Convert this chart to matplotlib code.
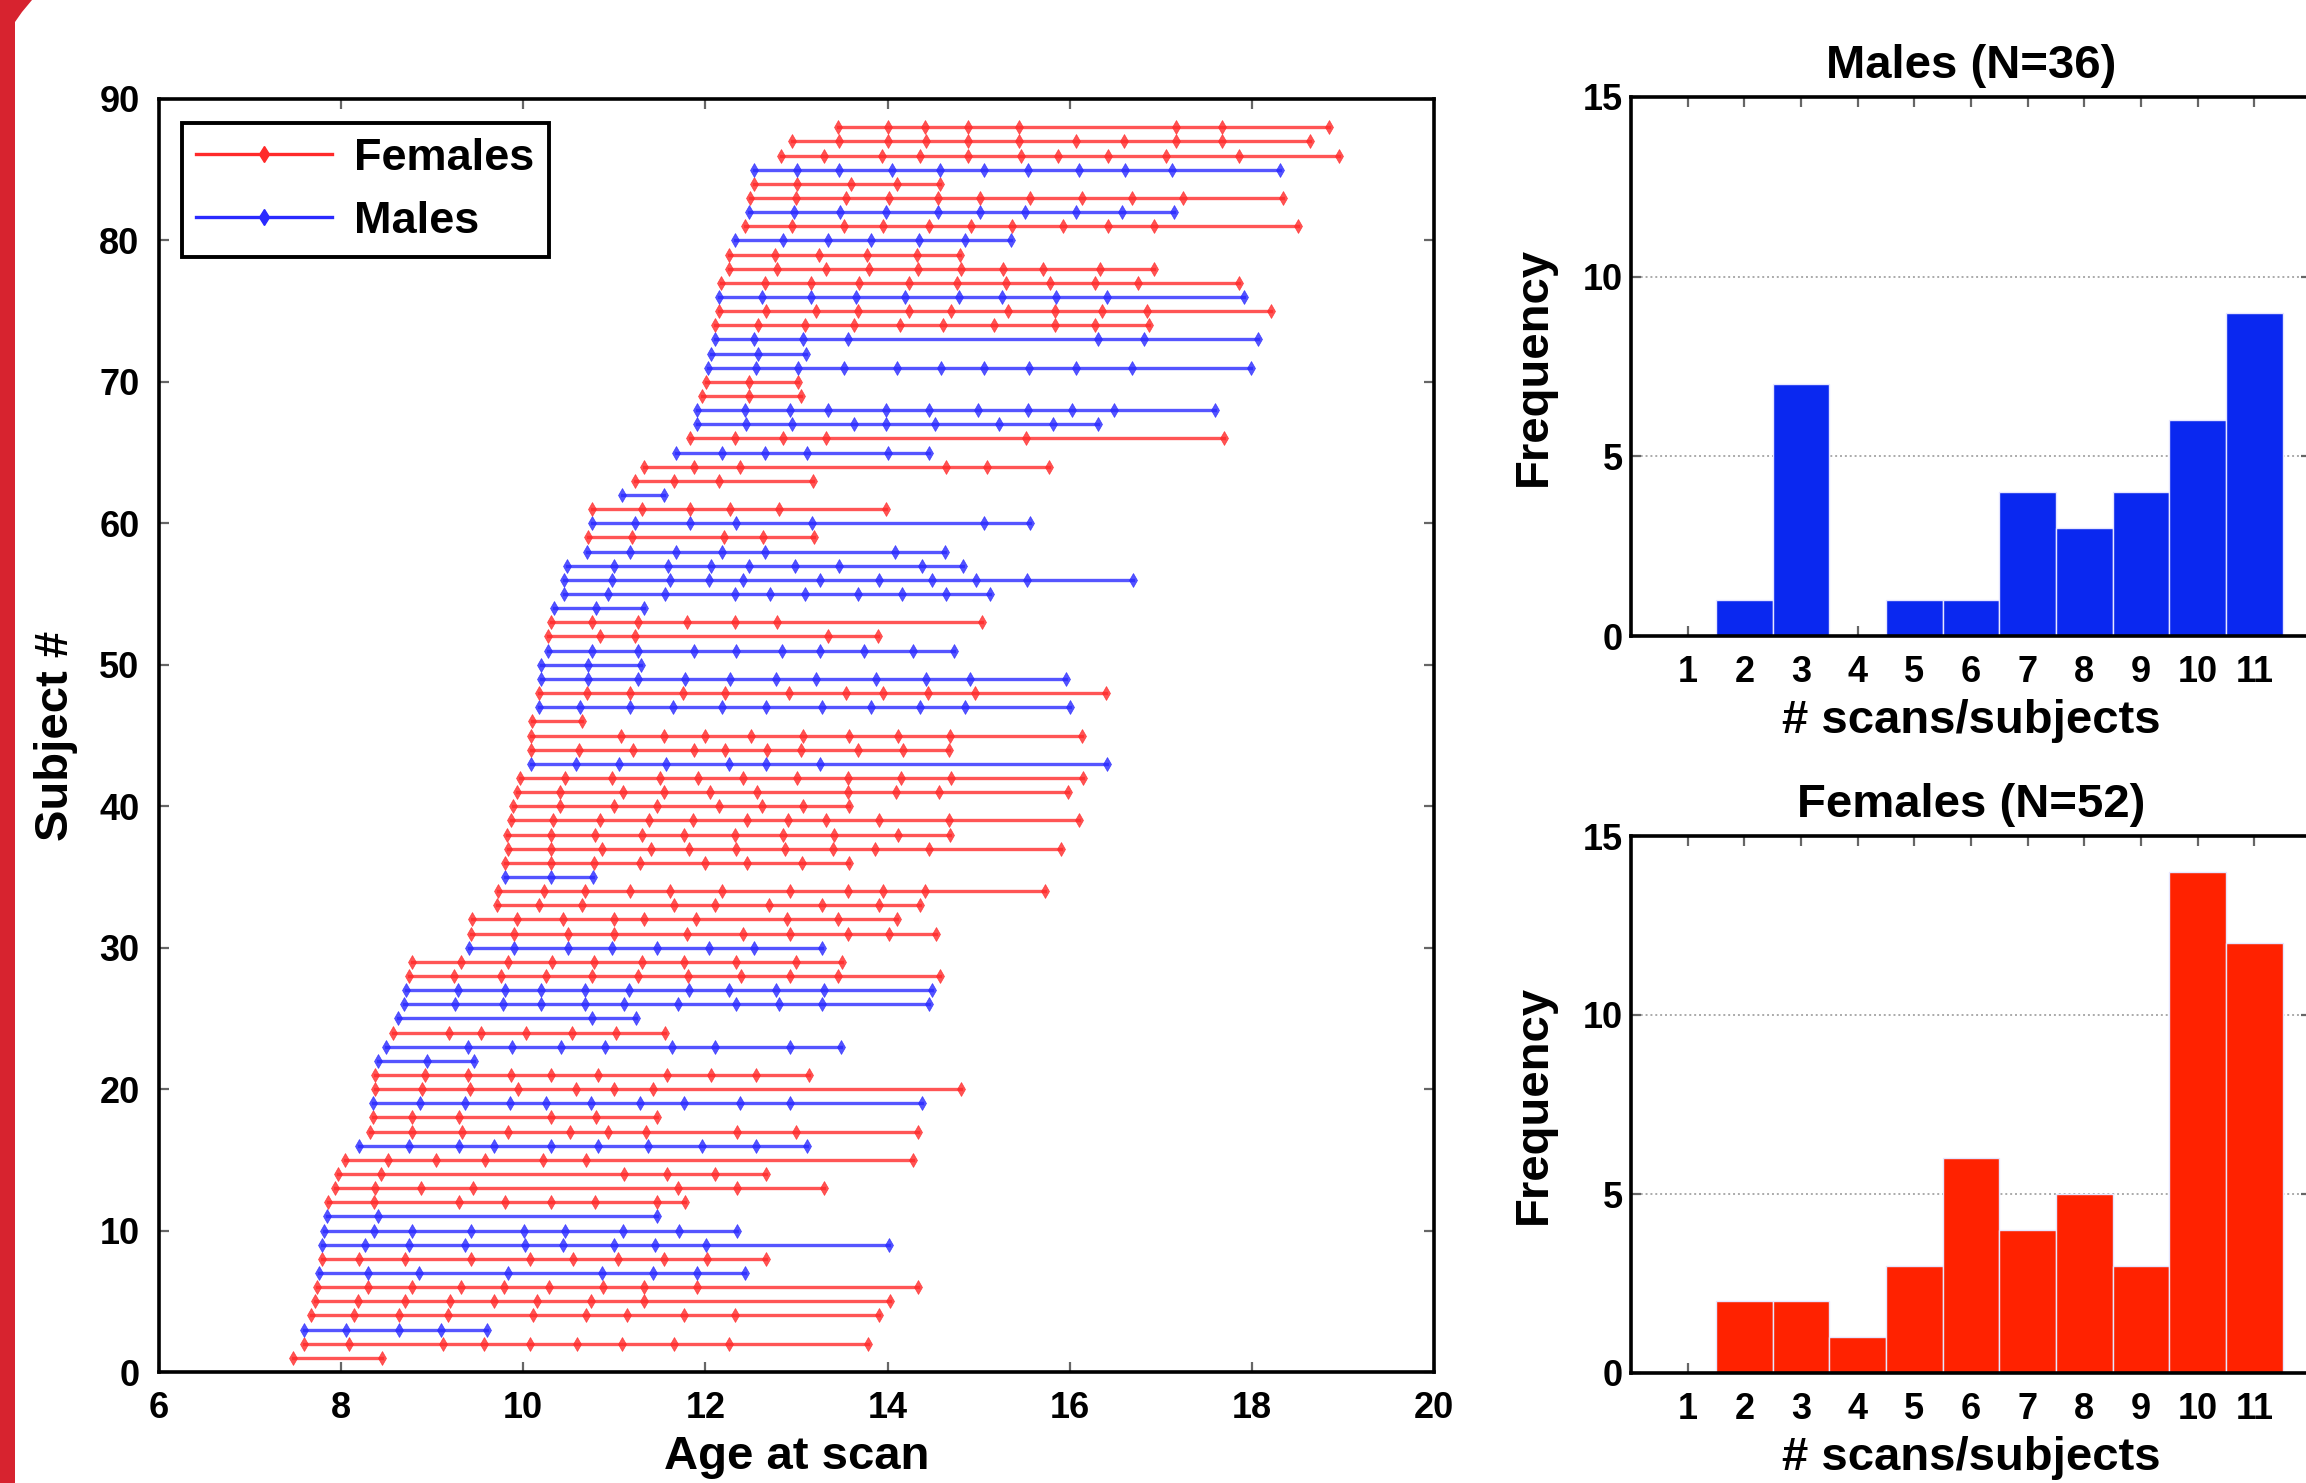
import matplotlib
matplotlib.use("Agg")
import matplotlib.pyplot as plt
import numpy as np
from matplotlib.patches import Polygon

# ---------------- data ----------------
# sex of each subject (1..88, bottom to top): F = female, M = male
subject_sex = ["F", "F", "M", "F", "F", "F", "M", "F", "M", "M",
               "M", "F", "F", "F", "F", "M", "F", "F", "M", "F",
               "F", "M", "M", "F", "M", "M", "M", "F", "F", "M",
               "F", "F", "F", "F", "M", "F", "F", "F", "F", "F",
               "F", "F", "M", "F", "F", "F", "M", "F", "M", "M",
               "M", "F", "F", "M", "M", "M", "M", "M", "F", "M",
               "F", "M", "F", "F", "M", "F", "M", "M", "F", "F",
               "M", "M", "M", "F", "F", "M", "F", "F", "F", "M",
               "F", "M", "F", "F", "M", "F", "F", "F"]

# age at each scan, per subject (1..88)
scan_ages = [
    [7.47, 8.45],
    [7.59, 8.09, 9.12, 9.57, 10.07, 10.59, 11.08, 11.65, 12.26, 13.79],
    [7.59, 8.05, 8.64, 9.10, 9.60],
    [7.67, 8.14, 8.64, 9.17, 10.11, 10.69, 11.14, 11.77, 12.33, 13.91],
    [7.71, 8.19, 8.70, 9.19, 9.68, 10.15, 10.74, 11.32, 14.03],
    [7.73, 8.29, 8.78, 9.32, 9.79, 10.28, 10.88, 11.32, 11.91, 14.33],
    [7.76, 8.29, 8.85, 9.83, 10.86, 11.42, 11.91, 12.43],
    [7.79, 8.20, 8.70, 9.43, 10.07, 10.55, 11.04, 11.54, 12.02, 12.66],
    [7.79, 8.26, 8.74, 9.36, 10.02, 10.44, 11.00, 11.45, 12.01, 14.02],
    [7.81, 8.36, 8.78, 9.43, 10.01, 10.46, 11.09, 11.71, 12.35],
    [7.84, 8.40, 11.47],
    [7.86, 8.36, 9.29, 9.80, 10.30, 10.79, 11.47, 11.78],
    [7.93, 8.37, 8.88, 9.45, 11.70, 12.35, 13.30],
    [7.97, 8.44, 11.11, 11.58, 12.10, 12.67],
    [8.04, 8.51, 9.04, 9.58, 10.22, 10.69, 14.28],
    [8.20, 8.74, 9.29, 9.68, 10.30, 10.82, 11.37, 11.96, 12.55, 13.12],
    [8.32, 8.78, 9.33, 9.83, 10.51, 10.93, 11.35, 12.35, 12.99, 14.33],
    [8.35, 8.78, 9.29, 10.30, 10.80, 11.47],
    [8.35, 8.87, 9.36, 9.85, 10.25, 10.74, 11.28, 11.77, 12.38, 12.93, 14.38],
    [8.37, 8.89, 9.41, 9.94, 10.58, 11.00, 11.42, 14.81],
    [8.37, 8.92, 9.39, 9.87, 10.30, 10.82, 11.58, 12.06, 12.55, 13.14],
    [8.40, 8.94, 9.46],
    [8.49, 9.39, 9.88, 10.41, 10.90, 11.63, 12.11, 12.93, 13.49],
    [8.57, 9.18, 9.54, 10.03, 10.53, 11.02, 11.56],
    [8.62, 10.76, 11.24],
    [8.69, 9.25, 9.78, 10.20, 10.68, 11.11, 11.70, 12.34, 12.81, 13.28, 14.45],
    [8.71, 9.28, 9.80, 10.19, 10.68, 11.16, 11.82, 12.26, 12.78, 13.30, 14.49],
    [8.75, 9.24, 9.76, 10.25, 10.76, 11.26, 11.81, 12.39, 12.93, 13.46, 14.58],
    [8.78, 9.32, 9.83, 10.32, 10.78, 11.30, 11.77, 12.34, 13.00, 13.50],
    [9.40, 9.90, 10.49, 10.97, 11.47, 12.04, 12.53, 13.28],
    [9.43, 9.90, 10.49, 11.00, 11.80, 12.41, 12.93, 13.56, 14.02, 14.53],
    [9.44, 9.93, 10.44, 11.00, 11.33, 11.90, 12.90, 13.46, 14.10],
    [9.71, 10.17, 10.65, 11.65, 12.11, 12.70, 13.28, 13.91, 14.36],
    [9.72, 10.23, 10.68, 11.17, 11.61, 12.18, 12.93, 13.56, 13.95, 14.41, 15.73],
    [9.80, 10.30, 10.77],
    [9.80, 10.30, 10.78, 11.28, 12.00, 12.46, 13.06, 13.58],
    [9.83, 10.30, 10.86, 11.40, 11.82, 12.34, 12.87, 13.40, 13.86, 14.45, 15.90],
    [9.82, 10.30, 10.79, 11.30, 11.76, 12.33, 12.85, 13.41, 14.12, 14.69],
    [9.87, 10.33, 10.84, 11.38, 11.86, 12.46, 12.91, 13.32, 13.91, 14.67, 16.10],
    [9.89, 10.40, 11.00, 11.47, 12.15, 12.62, 13.07, 13.58],
    [9.93, 10.40, 11.10, 11.55, 12.05, 12.57, 13.57, 14.09, 14.57, 15.98],
    [9.96, 10.46, 10.97, 11.50, 11.92, 12.41, 13.01, 13.56, 14.15, 14.70, 16.15],
    [10.08, 10.58, 11.05, 11.57, 12.26, 12.67, 13.26, 16.41],
    [10.08, 10.61, 11.20, 11.87, 12.22, 12.68, 13.05, 13.68, 14.17, 14.67],
    [10.08, 11.07, 11.54, 12.00, 12.50, 13.07, 13.58, 14.12, 14.69, 16.13],
    [10.10, 10.65],
    [10.17, 10.62, 11.17, 11.64, 12.18, 12.67, 13.28, 13.82, 14.36, 14.85, 16.00],
    [10.17, 10.70, 11.17, 11.75, 12.22, 12.92, 13.54, 13.95, 14.44, 14.96, 16.40],
    [10.20, 10.71, 11.26, 11.78, 12.27, 12.77, 13.21, 13.87, 14.42, 14.90, 15.96],
    [10.20, 10.71, 11.29],
    [10.27, 10.76, 11.26, 11.87, 12.34, 12.84, 13.26, 13.74, 14.28, 14.73],
    [10.27, 10.84, 11.23, 13.35, 13.89],
    [10.30, 10.75, 11.26, 11.80, 12.32, 12.79, 15.04],
    [10.34, 10.80, 11.32],
    [10.45, 10.93, 11.56, 12.32, 12.71, 13.09, 13.68, 14.16, 14.64, 15.13],
    [10.45, 10.97, 11.61, 12.04, 12.41, 13.26, 13.91, 14.49, 14.97, 15.53, 16.69],
    [10.48, 11.00, 11.59, 12.06, 12.48, 12.98, 13.47, 14.38, 14.83],
    [10.70, 11.17, 11.68, 12.18, 12.65, 14.08, 14.63],
    [10.71, 11.19, 12.20, 12.63, 13.19],
    [10.76, 11.23, 11.83, 12.34, 13.17, 15.06, 15.56],
    [10.76, 11.30, 11.83, 12.27, 12.81, 13.98],
    [11.08, 11.55],
    [11.23, 11.66, 12.15, 13.18],
    [11.33, 11.87, 12.38, 14.64, 15.09, 15.77],
    [11.68, 12.18, 12.65, 13.12, 14.01, 14.45],
    [11.83, 12.32, 12.85, 13.32, 15.52, 17.69],
    [11.91, 12.45, 12.95, 13.63, 13.98, 14.52, 15.22, 15.82, 16.31],
    [11.91, 12.44, 12.93, 13.35, 13.98, 14.45, 14.99, 15.54, 16.02, 16.49, 17.60],
    [11.96, 12.48, 13.05],
    [12.01, 12.48, 13.02],
    [12.03, 12.55, 13.02, 13.52, 14.10, 14.59, 15.06, 15.55, 16.07, 16.68, 17.99],
    [12.06, 12.58, 13.10],
    [12.10, 12.53, 13.07, 13.56, 16.31, 16.82, 18.07],
    [12.10, 12.58, 13.09, 13.63, 14.14, 14.61, 15.17, 15.84, 16.28, 16.87],
    [12.15, 12.67, 13.21, 13.68, 14.24, 14.70, 15.32, 15.84, 16.36, 16.85, 18.21],
    [12.15, 12.62, 13.16, 13.65, 14.19, 14.78, 15.26, 15.85, 16.41, 17.91],
    [12.17, 12.65, 13.16, 13.69, 14.23, 14.76, 15.30, 15.78, 16.28, 16.75, 17.86],
    [12.26, 12.79, 13.32, 13.80, 14.33, 14.81, 15.27, 15.71, 16.33, 16.92],
    [12.26, 12.76, 13.25, 13.77, 14.32, 14.79],
    [12.33, 12.85, 13.35, 13.82, 14.34, 14.85, 15.35],
    [12.43, 12.95, 13.52, 13.95, 14.45, 14.92, 15.37, 15.93, 16.42, 16.92, 18.51],
    [12.48, 12.97, 13.48, 13.98, 14.55, 15.01, 15.51, 16.07, 16.57, 17.14],
    [12.49, 12.99, 13.54, 14.02, 14.55, 15.01, 15.56, 16.13, 16.68, 17.24, 18.34],
    [12.53, 13.01, 13.60, 14.10, 14.58],
    [12.53, 13.01, 13.47, 14.05, 14.58, 15.06, 15.54, 16.10, 16.61, 17.12, 18.31],
    [12.83, 13.30, 13.94, 14.36, 14.88, 15.46, 15.87, 16.42, 17.06, 17.86, 18.96],
    [12.95, 13.47, 14.01, 14.42, 14.88, 15.44, 16.07, 16.60, 17.17, 17.67, 18.64],
    [13.46, 14.01, 14.41, 14.88, 15.44, 17.17, 17.67, 18.85],
]

# histogram of number of scans per subject
scan_bins = [1, 2, 3, 4, 5, 6, 7, 8, 9, 10, 11]
male_counts = [0, 1, 7, 0, 1, 1, 4, 3, 4, 6, 9]
female_counts = [0, 2, 2, 1, 3, 6, 4, 5, 3, 14, 12]
male_title = "Males (N=36)"
female_title = "Females (N=52)"

# ---------------- style ----------------
FONT = "Liberation Sans"
plt.rcParams["font.family"] = [FONT, "DejaVu Sans"]
plt.rcParams["font.weight"] = "bold"

W, H = 2306, 1483
fig = plt.figure(figsize=(W / 100, H / 100), dpi=100)

RED_LINE = "#ff2a2a"
BLUE_LINE = "#2a2aff"
RED_BAR = "#ff2200"
BLUE_BAR = "#0a28f0"
TICK_FS = 26
LABEL_FS = 34


def px_axes(x0, y0, x1, y1):
    return fig.add_axes([x0 / W, 1 - y1 / H, (x1 - x0) / W, (y1 - y0) / H])


def style_ticks(ax):
    ax.tick_params(direction="in", length=7, width=1.6, color="#666666",
                   top=True, right=True, labelsize=TICK_FS, pad=14)
    for lab in ax.get_xticklabels() + ax.get_yticklabels():
        lab.set_fontweight("bold")
    for s in ax.spines.values():
        s.set_linewidth(2.6)
        s.set_color("black")


# ---------------- left panel ----------------
ax = px_axes(159, 99, 1434, 1372)
for i, (sex, ages) in enumerate(zip(subject_sex, scan_ages)):
    subj = i + 1
    col = RED_LINE if sex == "F" else BLUE_LINE
    ax.plot(ages, [subj] * len(ages), "-", color=col, lw=2.4, alpha=0.8,
            marker="d", markersize=7, markerfacecolor=col, markeredgecolor=col,
            markeredgewidth=0.5, zorder=2)

ax.set_xlim(6, 20)
ax.set_ylim(0, 90)
ax.set_xticks(np.arange(6, 21, 2))
ax.set_yticks(np.arange(0, 91, 10))
style_ticks(ax)
ax.set_xlabel("Age at scan", fontsize=LABEL_FS, fontweight="bold", labelpad=6)
ax.set_ylabel("Subject #", fontsize=LABEL_FS, fontweight="bold", labelpad=15)

h_f, = ax.plot([], [], "-", color=RED_LINE, lw=2.4, marker="d", markersize=8)
h_m, = ax.plot([], [], "-", color=BLUE_LINE, lw=2.4, marker="d", markersize=8)
leg = ax.legend([h_f, h_m], ["Females", "Males"], loc="upper left",
                bbox_to_anchor=(0.018, 0.981), borderaxespad=0, numpoints=1,
                fontsize=LABEL_FS - 1.5, handlelength=3.0, handletextpad=0.5,
                labelspacing=0.5, borderpad=0.32, fancybox=False,
                framealpha=1, edgecolor="black")
leg.get_frame().set_linewidth(2.8)
for t in leg.get_texts():
    t.set_fontweight("bold")


# ---------------- histograms ----------------
def hist_panel(rect, counts, color, title):
    a = px_axes(*rect)
    a.set_axisbelow(True)
    a.yaxis.grid(True, linestyle=(0, (1, 1.5)), color="#aaaaaa", linewidth=1.4)
    a.bar(scan_bins, counts, width=1.0, color=color, edgecolor="#e6e6ff",
          linewidth=1.0, zorder=2)
    a.set_xlim(0, 12)
    a.set_ylim(0, 15)
    a.set_xticks(scan_bins)
    a.set_yticks([0, 5, 10, 15])
    style_ticks(a)
    a.tick_params(axis="x", pad=14)
    a.tick_params(axis="y", pad=6)
    a.set_title(title, fontsize=LABEL_FS, fontweight="bold", pad=14)
    a.set_xlabel("# scans/subjects", fontsize=LABEL_FS, fontweight="bold", labelpad=6)
    a.set_ylabel("Frequency", fontsize=LABEL_FS, fontweight="bold", labelpad=19)
    return a


hist_panel((1631, 97, 2311, 636), male_counts, BLUE_BAR, male_title)
hist_panel((1631, 836, 2311, 1373), female_counts, RED_BAR, female_title)

# ---------------- red slide border on the left ----------------
pts_px = [(0, 0), (32, 0), (22, 12), (15, 22), (15, H), (0, H)]
fig.patches.append(Polygon([(x / W, 1 - y / H) for x, y in pts_px],
                           closed=True, transform=fig.transFigure,
                           facecolor="#d7232f", edgecolor="none", zorder=10))

fig.savefig("out.png", dpi=100)
